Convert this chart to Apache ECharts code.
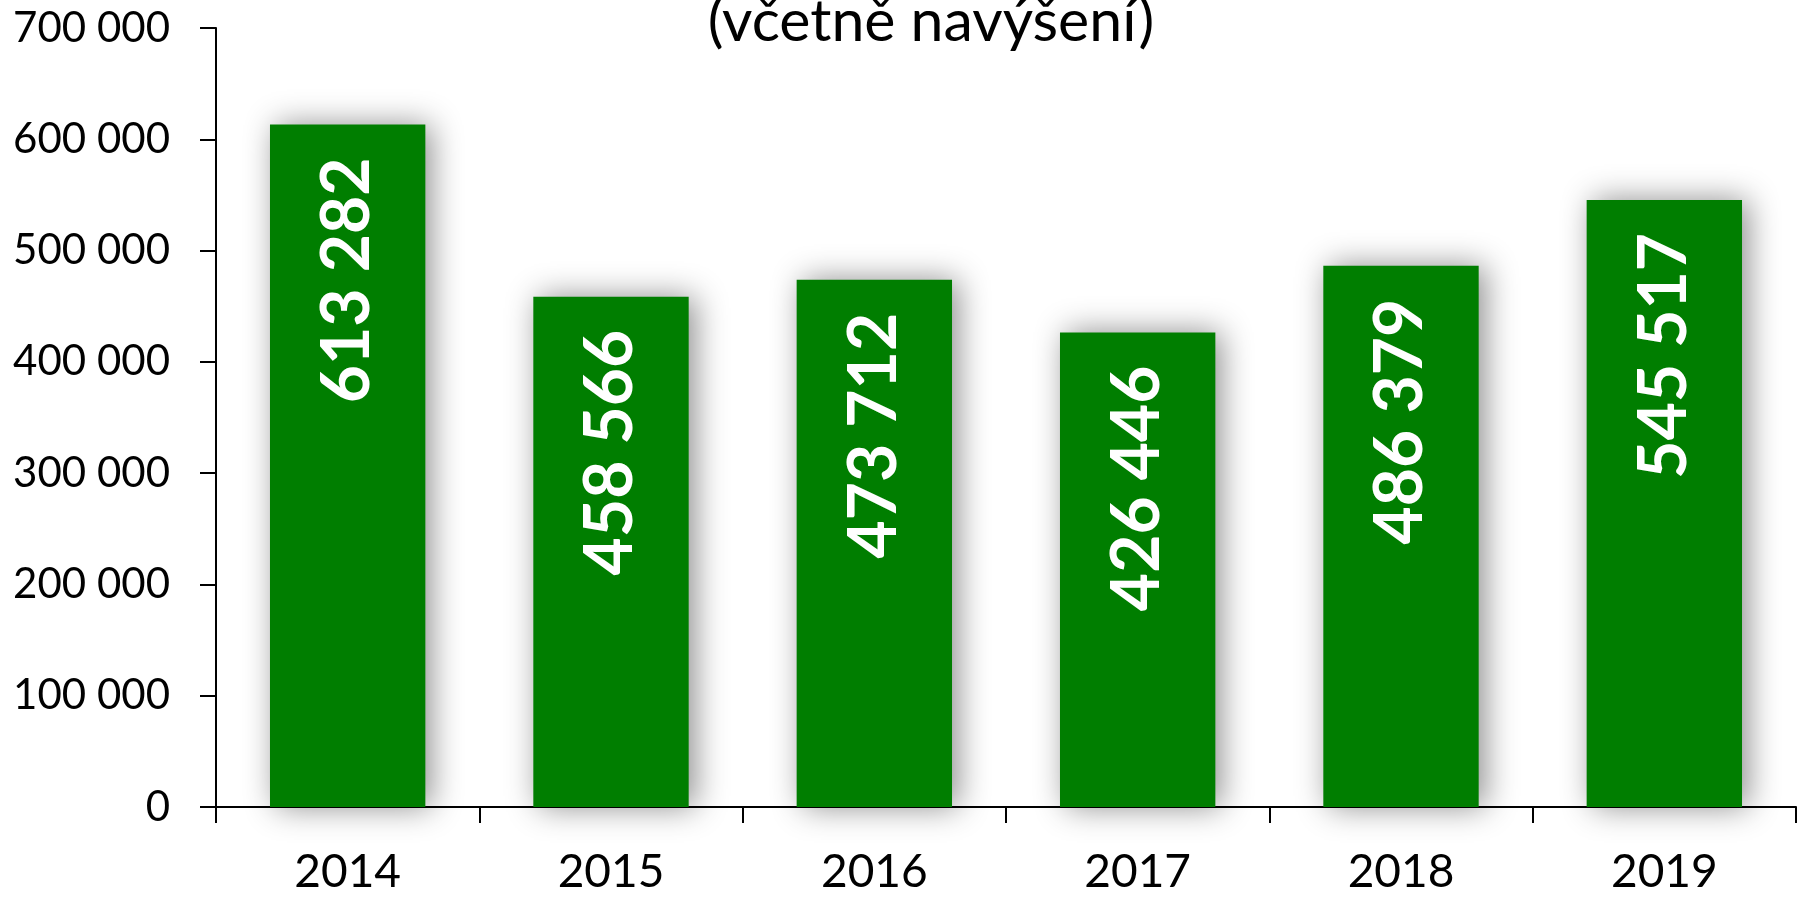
<!DOCTYPE html>
<html><head><meta charset="utf-8">
<script src="https://cdn.jsdelivr.net/npm/echarts@6/dist/echarts.min.js"></script>
<style>html,body{margin:0;padding:0;background:#fff}#c{width:1798px;height:897px}</style>
</head><body><div id="c"></div>
<script>
const titleText = '(včetně navýšení)';
const years = ['2014', '2015', '2016', '2017', '2018', '2019'];
const values = [613282, 458566, 473712, 426446, 486379, 545517];
const yTicks = [0, 100000, 200000, 300000, 400000, 500000, 600000, 700000];

const fmt = v => String(v).replace(/\B(?=(\d{3})+(?!\d))/g, ' ');
const chart = echarts.init(document.getElementById('c'));
chart.setOption({
  animation: false,
  backgroundColor: '#fff',
  title: {
    text: titleText, left: 926, top: -13, textAlign: 'center',
    textStyle: { fontFamily: 'Lato', fontSize: 59, fontWeight: 'normal', color: '#000' }
  },
  grid: { left: 216, right: 2, top: 28, bottom: 90 },
  xAxis: {
    type: 'category', data: years,
    axisLine: { lineStyle: { color: '#000', width: 2 } },
    axisTick: { show: true, length: 16, alignWithLabel: false, lineStyle: { color: '#000', width: 2 } },
    axisLabel: { fontFamily: 'Lato', fontSize: 46, color: '#000', margin: 42 }
  },
  yAxis: {
    type: 'value', min: yTicks[0], max: yTicks[yTicks.length - 1], interval: yTicks[1] - yTicks[0],
    splitLine: { show: false },
    axisLine: { show: true, lineStyle: { color: '#000', width: 2 } },
    axisTick: { show: true, length: 16, lineStyle: { color: '#000', width: 2 } },
    axisLabel: { fontFamily: 'Lato', fontSize: 42, color: '#000', margin: 46, formatter: fmt }
  },
  series: [{
    type: 'bar', data: values, barWidth: '59%',
    itemStyle: { color: '#007e00', shadowBlur: 30, shadowColor: 'rgba(0,0,0,0.45)', shadowOffsetX: 6, shadowOffsetY: 0 },
    label: {
      show: true, position: 'insideTop', rotate: 90, distance: 33,
      align: 'right', verticalAlign: 'middle',
      fontFamily: 'Lato', fontWeight: 'bold', fontSize: 66, color: '#fff',
      formatter: p => fmt(p.value)
    }
  }]
});
</script></body></html>
